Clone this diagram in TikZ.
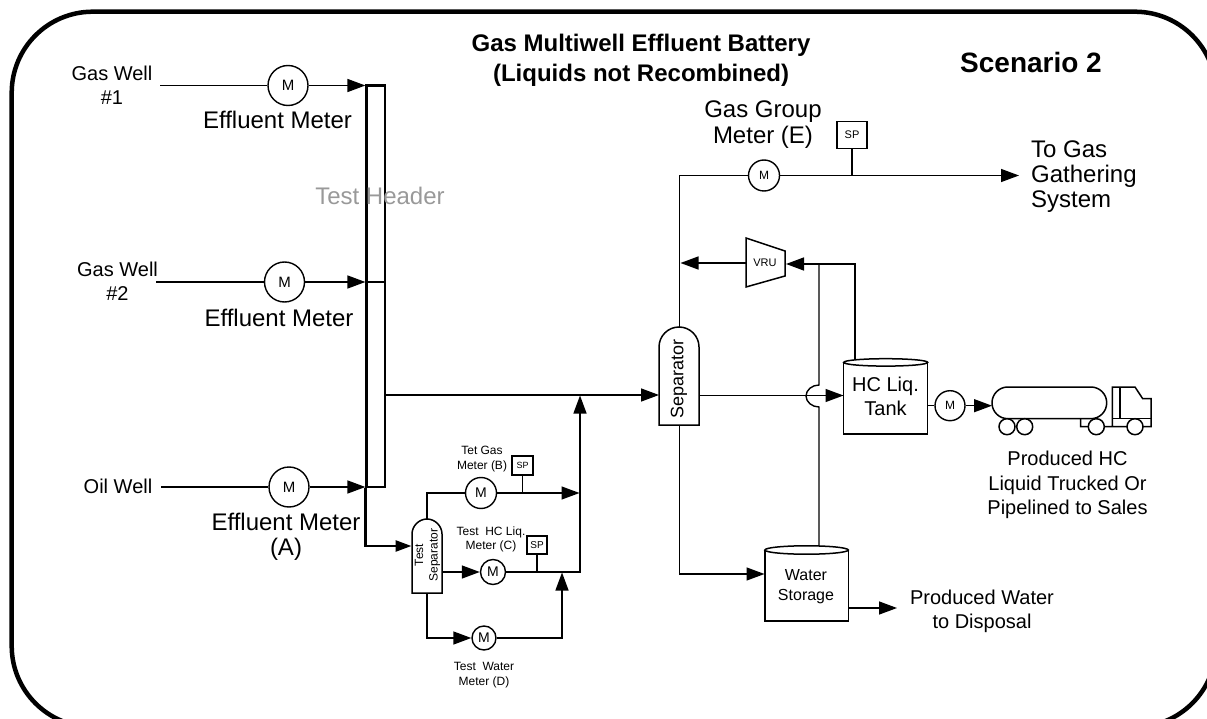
\documentclass[tikz,border=0pt]{standalone}
\usepackage{fontspec}
\setmainfont{Liberation Sans}
\usetikzlibrary{arrows.meta}
\newcommand{\fs}[2]{\fontsize{#1}{#2}\selectfont}
\tikzset{
  pipe/.style={draw=black,line width=1.4pt},
  flow/.style={pipe,-{Triangle[length=18pt,width=13pt]}},
  thickflow/.style={draw=black,line width=2.6pt,-{Triangle[length=16pt,width=11pt]}},
  vessel/.style={draw=black,line width=1.5pt,fill=white},
  meter/.style={circle,draw=black,line width=1.4pt,fill=white,inner sep=0pt},
  spbox/.style={rectangle,draw=black,line width=1.4pt,fill=white,inner sep=0pt},
  lab/.style={align=center,inner sep=0pt,text=black},
  frame/.style={draw=black,line width=4.5pt,rounded corners=81pt}
}
\begin{document}
\begin{tikzpicture}[x=1pt,y=-1pt]
\clip (0,0) rectangle (1207,719);
\draw[frame] (11.7,11.7) rectangle (1216,727);

% titles
\node[lab,font=\bfseries\fs{24}{29.5}] (title) at (641,60.5) {Gas Multiwell Effluent Battery\\(Liquids not Recombined)};
\node[lab,font=\bfseries\fs{28}{34}] (scen) at (1031,62.5) {Scenario 2};

% header
\node[rectangle,draw=black,line width=2.2pt,minimum width=18.5pt,minimum height=401.5pt,inner sep=0pt] (header) at (375.75,286.25) {};
\node[lab,font=\fs{24}{28},text=black!40] (hlabel) at (380,196) {Test Header};

% wells
\coordinate (w1) at (160,85.5);
\coordinate (w2) at (156,282);
\coordinate (w3) at (161,487);
\node[meter,minimum size=40pt,font=\fs{15}{18}] (m1) at (288,85.5) {M};
\node[meter,minimum size=40pt,font=\fs{15}{18}] (m2) at (284.5,282) {M};
\node[meter,minimum size=40pt,font=\fs{15}{18}] (m3) at (289,487) {M};
\draw[pipe] (w1) -- (m1.west);
\draw[pipe] (w2) -- (m2.west);
\draw[pipe] (w3) -- (m3.west);
\draw[flow] (m1.east) -- (m1.east -| header.west);
\draw[flow] (m2.east) -- (m2.east -| header.west);
\draw[flow] (m3.east) -- (m3.east -| header.west);
\draw[pipe] (m2.east -| header.west) -- (m2.east -| header.east);
\node[lab,font=\fs{20}{24}] (l1) at (112,85) {Gas Well\\\#1};
\node[lab,font=\fs{20}{24}] (l2) at (117.5,281) {Gas Well\\\#2};
\node[lab,font=\fs{20}{24}] (l3) at (118,486) {Oil Well};
\node[lab,font=\fs{24}{25}] (e1) at (277.5,120) {Effluent Meter};
\node[lab,font=\fs{24}{25}] (e2) at (279,318) {Effluent Meter};
\node[lab,font=\fs{24}{25}] (e3) at (286,537) {Effluent Meter\\(A)};

% test separator
\draw[vessel] (412,593) -- (412,534) .. controls (412,526) and (419,519) .. (427,519) .. controls (435,519) and (442,526) .. (442,534) -- (442,593) -- cycle;
\node[lab,rotate=90,font=\fs{12}{14.5}] (ts) at (427.5,555) {Test\\Separator};
\coordinate (tsw) at (411.5,546);
\coordinate (tst) at (427,519);
\coordinate (tse) at (442,572);
\coordinate (tsb) at (427,593);
\draw[thickflow] (header.south west) -- (header.south west |- tsw) -- (tsw);

% main header outlet
\coordinate (hout) at (385,395);
\coordinate (jmain) at (580,395.5);
\coordinate (sepw) at (659,395);
\draw[flow] (hout) -- (sepw);

% test gas
\node[meter,minimum size=31pt,font=\fs{14}{16}] (mb) at (481,493) {M};
\node[spbox,minimum width=21pt,minimum height=19pt,font=\fs{9}{10}] (spb) at (522.5,465.5) {SP};
\coordinate (jb) at (579.5,493);
\draw[pipe] (tst) -- (tst |- mb) -- (mb.west);
\draw[flow] (mb.east) -- (jb);
\draw[pipe] (spb.south) -- (spb.south |- mb);
\node[lab,font=\fs{12}{15}] (lb) at (482,459.5) {Tet Gas\\Meter (B)};

% test liquid
\node[meter,minimum size=25pt,font=\fs{14}{16}] (mc) at (493,572) {M};
\node[spbox,minimum width=20pt,minimum height=18pt,font=\fs{10}{11}] (spc) at (537,545) {SP};
\coordinate (jc) at (580,572);
\draw[flow] (tse) -- (mc.west);
\draw[flow] (mc.east) -- (jc) -- (jmain);
\draw[pipe] (spc.south) -- (spc.south |- mc);
\node[lab,font=\fs{12}{14}] (lc) at (491,539) {Test\ \ HC Liq.\\Meter (C)};

% test water
\node[meter,minimum size=24pt,font=\fs{14}{16}] (md) at (484,638) {M};
\coordinate (jd) at (562,638);
\coordinate (je) at (562,572.5);
\draw[flow] (tsb) -- (tsb |- md) -- (md.west);
\draw[flow] (md.east) -- (jd) -- (je);
\node[lab,font=\fs{12}{14.5}] (ld) at (484,675) {Test\ \ Water\\Meter (D)};

% separator
\draw[vessel] (659,425) -- (659,347) .. controls (659,336) and (668,327) .. (679,327) .. controls (690,327) and (699,336) .. (699,347) -- (699,425) -- cycle;
\node[lab,rotate=90,font=\fs{18}{20}] (sep) at (679,379) {Separator};
\coordinate (sept) at (679.5,327);
\coordinate (sepb) at (679.5,425);
\coordinate (sepe) at (699,395.5);

% gas line
\node[meter,minimum size=31pt,font=\fs{12}{14}] (me) at (764,175.5) {M};
\node[spbox,minimum width=30pt,minimum height=27pt,font=\fs{11}{12}] (spe) at (852,135) {SP};
\coordinate (gasout) at (1019,175.5);
\draw[pipe] (sept) -- (sept |- me) -- (me.west);
\draw[flow] (me.east) -- (gasout);
\draw[pipe] (spe.south) -- (spe.south |- me);
\node[lab,font=\fs{24}{26}] (le) at (763,125) {Gas Group\\Meter (E)};
\node[lab,font=\fs{24}{25},align=left,anchor=west] (lgas) at (1031,177) {To Gas\\Gathering\\System};

% VRU
\draw[vessel] (746,238) -- (785,251) -- (785,276) -- (746,287) -- cycle;
\node[lab,font=\fs{11}{12}] (vru) at (765,263) {VRU};
\coordinate (vruw) at (746,263);
\coordinate (vrue) at (786,264);
\coordinate (jvw) at (680.5,263);
\draw[flow] (vruw) -- (jvw);

% HC tank
\draw[vessel] (843.7,362.4) -- (843.7,434) -- (927.7,434) -- (927.7,362.4);
\draw[vessel] (885.7,362.4) circle[x radius=42pt,y radius=3.7pt];
\node[lab,font=\fs{20}{24}] (tank) at (885.5,396) {HC Liq.\\Tank};
\coordinate (tankw) at (843.5,395.5);
\coordinate (tankt) at (855,359);
\draw[flow] (sepe) -- (tankw);
\draw[flow] (tankt) -- (tankt |- vrue) -- (vrue);

% Water storage
\draw[vessel] (764.8,550) -- (764.8,621) -- (848.3,621) -- (848.3,550);
\draw[vessel] (806.5,550) circle[x radius=41.7pt,y radius=4.2pt];
\node[lab,font=\fs{16}{19.5}] (wat) at (806,586.5) {Water\\Storage};
\coordinate (watw) at (764.5,574);
\coordinate (wate) at (848.3,608);
\coordinate (watt) at (819,546);
\coordinate (wato) at (897,608);
\draw[flow] (sepb) -- (sepb |- watw) -- (watw);
\draw[flow] (wate) -- (wato);
\node[lab,font=\fs{20}{24}] (lw) at (982,611.5) {Produced Water\\to Disposal};

% VRU line from water storage with jump
\coordinate (jv) at (819,264);
\coordinate (jt) at (819,385);
\coordinate (jb2) at (819,407);
\draw[pipe] (jv) -- (jt) .. controls (812,385) and (806,390) .. (806,396) .. controls (806,402) and (812,407) .. (jb2) -- (watt);

% truck meter
\node[meter,minimum size=30pt,font=\fs{12}{14}] (mh) at (950,405.7) {M};
\coordinate (tanke) at (927.7,405.7);
\coordinate (trk) at (992,405.7);
\draw[pipe] (tanke) -- (mh.west);
\draw[flow] (mh.east) -- (trk);

% truck
\draw[vessel,rounded corners=15.8pt] (992,387) rectangle (1106.7,418.7);
\draw[vessel,fill=none] (1080.7,418.7) -- (1080.7,426.5) -- (1151,426.5) -- (1151,398.7) -- (1142.7,398.7) -- (1135,387) -- (1112.3,387) -- (1112.3,426.5);
\draw[vessel,fill=none] (1120,387) -- (1120,418.5);
\draw[vessel,fill=none] (1112.3,418.5) -- (1151,418.5);
\draw[vessel] (1007,426.7) circle[radius=8pt];
\draw[vessel] (1024.7,426.7) circle[radius=8pt];
\draw[vessel] (1096.3,426.7) circle[radius=8pt];
\draw[vessel] (1135,426.7) circle[radius=8pt];
\node[lab,font=\fs{20}{24.5}] (lh) at (1067.5,485) {Produced HC\\Liquid Trucked Or\\Pipelined to Sales};
\end{tikzpicture}
\end{document}
